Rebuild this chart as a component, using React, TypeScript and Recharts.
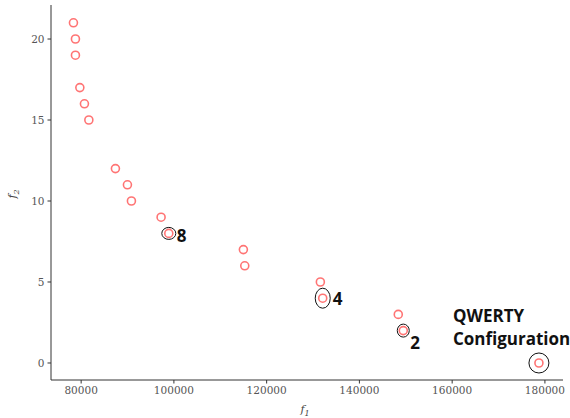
import React from 'react';
import {
  ScatterChart,
  Scatter,
  XAxis,
  YAxis,
  ZAxis,
} from 'recharts';

// pareto front points (f1, f2)
const f1Values = [
  78340, 78770, 78770, 79720, 80710, 81660, 87390, 89980, 90840, 97240,
  98900, 114980, 115280, 131580, 132090, 148380, 149460, 178710,
];
const f2Values = [21, 20, 19, 17, 16, 15, 12, 11, 10, 9, 8, 7, 6, 5, 4, 3, 2, 0];

// highlighted configurations
const highlightF1 = [98900, 132090, 149460, 178710];
const highlightF2 = [8, 4, 2, 0];
const highlightLabels = ['8', '4', '2', 'QWERTY Configuration'];

const xTicks = [80000, 100000, 120000, 140000, 160000, 180000];
const yTicks = [0, 5, 10, 15, 20];

const points = f1Values.map((x, i) => ({ x, y: f2Values[i] }));
const highlights = highlightF1.map((x, i) => ({ x, y: highlightF2[i], label: highlightLabels[i] }));

const X_DOMAIN: [number, number] = [73500, 183900];
const Y_DOMAIN: [number, number] = [-1.05, 22.1];

const RED = '#ff5c5c';

const RingDot = (props: any) => {
  const { cx, cy } = props;
  return <circle cx={cx} cy={cy} r={4} fill="none" stroke={RED} strokeWidth={1.6} strokeOpacity={0.85} />;
};

// ellipse sizes and label offsets for each highlighted point
const marks: Record<string, { rx: number; ry: number; dx: number; dy: number }> = {
  '8': { rx: 7, ry: 6, dx: 8, dy: 9 },
  '4': { rx: 7.5, ry: 10, dx: 10, dy: 7 },
  '2': { rx: 6, ry: 6.5, dx: 7, dy: 18 },
  'QWERTY Configuration': { rx: 10, ry: 10, dx: -86, dy: -41 },
};

const Highlight = (props: any) => {
  const { cx, cy, payload } = props;
  const m = marks[payload.label];
  const words = payload.label.split(' ');
  return (
    <g>
      <ellipse cx={cx} cy={cy} rx={m.rx} ry={m.ry} fill="none" stroke="#111" strokeWidth={1} />
      <text
        x={cx + m.dx}
        y={cy + m.dy}
        fontFamily="'Open Sans', sans-serif"
        fontWeight="bold"
        fontSize={17}
        fill="#111"
      >
        {words.map((w: string, i: number) => (
          <tspan key={i} x={cx + m.dx} dy={i === 0 ? 0 : 23}>
            {w}
          </tspan>
        ))}
      </text>
    </g>
  );
};

const tickStyle = { fontFamily: 'DejaVu Serif', fontSize: 10.5, fill: '#555' };

const XLabel = () => (
  <text x={305} y={413} textAnchor="middle" fontFamily="DejaVu Serif" fontStyle="italic" fontSize={11} fill="#444">
    f<tspan fontSize={8} dy={3}>1</tspan>
  </text>
);

const YLabel = () => (
  <text x={16} y={194} textAnchor="middle" transform="rotate(-90 16 194)" fontFamily="DejaVu Serif" fontStyle="italic" fontSize={11} fill="#444">
    f<tspan fontSize={8} dy={3}>2</tspan>
  </text>
);

export default function App() {
  return (
    <div style={{ position: 'absolute', left: 0, top: 0, background: '#fff' }}>
      <ScatterChart width={570} height={418} margin={{ top: 5, right: 7, bottom: 0, left: 0 }}>
        <XAxis
          type="number"
          dataKey="x"
          domain={X_DOMAIN}
          ticks={xTicks}
          height={38}
          tick={tickStyle}
          tickSize={3.5}
          tickMargin={3}
          stroke="#333"
          label={{ content: () => <XLabel /> }}
        />
        <XAxis xAxisId="top" orientation="top" type="number" dataKey="x" domain={X_DOMAIN} height={0} tick={false} tickLine={false} stroke="#333" />
        <YAxis
          type="number"
          dataKey="y"
          domain={Y_DOMAIN}
          ticks={yTicks}
          width={51}
          tick={tickStyle}
          tickSize={3.5}
          tickMargin={3}
          stroke="#333"
          label={{ content: () => <YLabel /> }}
        />
        <YAxis yAxisId="right" orientation="right" type="number" dataKey="y" domain={Y_DOMAIN} width={0} tick={false} tickLine={false} stroke="#333" />
        <ZAxis range={[40, 40]} />
        <Scatter data={points} shape={<RingDot />} isAnimationActive={false} />
        <Scatter data={highlights} shape={<Highlight />} isAnimationActive={false} />
      </ScatterChart>
    </div>
  );
}
